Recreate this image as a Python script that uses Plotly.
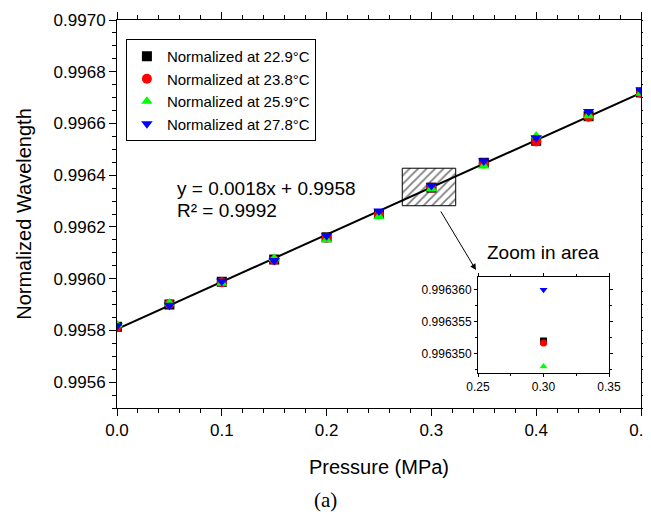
import numpy as np
import plotly.graph_objects as go

# ---------------- data ----------------
pressure = [0.0, 0.05, 0.10, 0.15, 0.20, 0.25, 0.30, 0.35, 0.40, 0.45, 0.50]
wl_229 = [0.995814, 0.995900, 0.995988, 0.996074, 0.996160, 0.996250, 0.996352, 0.996448, 0.996533, 0.996628, 0.996720]
wl_238 = [0.995812, 0.995902, 0.995986, 0.996072, 0.996158, 0.996248, 0.9963517, 0.996445, 0.996530, 0.996626, 0.996718]
wl_259 = [0.995822, 0.995906, 0.995982, 0.996078, 0.996150, 0.996240, 0.996348, 0.996436, 0.996552, 0.996630, 0.996717]
wl_278 = [0.995818, 0.995897, 0.995990, 0.996070, 0.996166, 0.996262, 0.996360, 0.996455, 0.996545, 0.996646, 0.996729]

series_names = ["Normalized at 22.9°C", "Normalized at 23.8°C",
                "Normalized at 25.9°C", "Normalized at 27.8°C"]
series_values = [wl_229, wl_238, wl_259, wl_278]
series_colors = ["#000000", "#FF0000", "#00FF00", "#0000FF"]
series_symbols = ["square", "circle", "triangle-up", "triangle-down"]

eq_text = "y = 0.0018x + 0.9958"
r2_text = "R² = 0.9992"

# zoom region (in data units)
zoom_x = [0.2722, 0.3232]
zoom_y = [0.996282, 0.996427]

x_ticks_main = [0.0, 0.1, 0.2, 0.3, 0.4, 0.5]
y_ticks_main = [0.9956, 0.9958, 0.9960, 0.9962, 0.9964, 0.9966, 0.9968, 0.9970]
x_ticks_inset = [0.25, 0.30, 0.35]
y_ticks_inset = [0.996350, 0.996355, 0.996360]

FONT = "Liberation Sans, Arial, sans-serif"

fig = go.Figure()

# hatched zoom rectangle
fig.add_trace(go.Scatter(
    x=[zoom_x[0], zoom_x[1], zoom_x[1], zoom_x[0], zoom_x[0]],
    y=[zoom_y[0], zoom_y[0], zoom_y[1], zoom_y[1], zoom_y[0]],
    mode="lines", fill="toself",
    fillpattern=dict(shape="/", fgcolor="black", bgcolor="white", size=6, solidity=0.3),
    line=dict(color="black", width=1), showlegend=False, hoverinfo="skip",
    xaxis="x", yaxis="y"))

# linear fit line
all_x = np.array(pressure * 4)
all_y = np.concatenate([np.array(v) for v in series_values])
slope, intercept = np.polyfit(all_x, all_y, 1)
fit_x = np.array([min(pressure), max(pressure)])
fig.add_trace(go.Scatter(x=fit_x, y=slope * fit_x + intercept, mode="lines",
                         line=dict(color="black", width=2), showlegend=False,
                         hoverinfo="skip", xaxis="x", yaxis="y"))

for name, vals, col, sym in zip(series_names, series_values, series_colors, series_symbols):
    fig.add_trace(go.Scatter(x=pressure, y=vals, mode="markers", name=name,
                             marker=dict(symbol=sym, color=col, size=10, line=dict(width=0)),
                             xaxis="x", yaxis="y"))

for name, vals, col, sym in zip(series_names, series_values, series_colors, series_symbols):
    fig.add_trace(go.Scatter(x=pressure, y=vals, mode="markers", name=name,
                             marker=dict(symbol=sym, color=col, size=7, line=dict(width=0)),
                             showlegend=False, xaxis="x2", yaxis="y2"))

axis_common = dict(showline=True, linecolor="black", linewidth=1, mirror="ticks",
                   ticks="outside", tickcolor="black", showgrid=False, zeroline=False,
                   automargin=False)

# the page body adds an 8px offset, so margins are reduced by 8px on left/top
fig.update_layout(
    width=643, height=516,
    margin=dict(l=109, r=10, t=12, b=116),
    paper_bgcolor="white", plot_bgcolor="white",
    font=dict(family=FONT, color="black", size=17),
    xaxis=dict(range=[0, 0.5], tickvals=x_ticks_main, tickformat=".1f", ticklen=7,
               ticklabeloverflow="allow",
               minor=dict(dtick=0.02, ticklen=4, tickcolor="black", ticks="outside"),
               title=dict(text="Pressure (MPa)", font=dict(size=20), standoff=20),
               tickfont=dict(size=17), **axis_common),
    yaxis=dict(range=[0.9955, 0.9970], tickvals=y_ticks_main, tickformat=".4f", ticklen=7,
               minor=dict(dtick=0.00005, tick0=0.9955, ticklen=4, tickcolor="black", ticks="outside"),
               title=dict(text="Normalized Wavelength", font=dict(size=20), standoff=16),
               tickfont=dict(size=17), **axis_common),
    xaxis2=dict(domain=[0.689, 0.939], anchor="y2", range=[0.25, 0.35],
                tickvals=x_ticks_inset, tickformat=".2f", ticklen=3,
                minor=dict(dtick=0.025, ticklen=2, tickcolor="black", ticks="outside"),
                tickfont=dict(size=12), **axis_common),
    yaxis2=dict(domain=[0.0902, 0.3376], anchor="x2", range=[0.996347, 0.996362],
                tickvals=y_ticks_inset, tickformat=".6f", ticklen=3,
                minor=dict(dtick=0.0000025, tick0=0.99635, ticklen=2, tickcolor="black", ticks="outside"),
                tickfont=dict(size=12), **axis_common),
    legend=dict(x=0.017, y=0.951, xanchor="left", yanchor="top",
                bordercolor="black", borderwidth=1, bgcolor="white",
                font=dict(size=15), tracegroupgap=0, itemwidth=30),
    showlegend=True,
)

fig.add_annotation(x=0.1107, y=0.566, xref="paper", yref="paper", text=eq_text,
                   showarrow=False, xanchor="left", yanchor="middle", font=dict(size=19))
fig.add_annotation(x=0.1107, y=0.5085, xref="paper", yref="paper", text=r2_text,
                   showarrow=False, xanchor="left", yanchor="middle", font=dict(size=19))
fig.add_annotation(x=0.813, y=0.3995, xref="paper", yref="paper", text="Zoom in area",
                   showarrow=False, xanchor="center", yanchor="middle", font=dict(size=19))
fig.add_annotation(x=0.685, y=0.3557, xref="paper", yref="paper", text="",
                   showarrow=True, ax=-36, ay=-60, arrowhead=2, arrowsize=1.2,
                   arrowwidth=1, arrowcolor="black")
fig.add_annotation(x=0.397, y=-0.237, xref="paper", yref="paper", text="(a)",
                   showarrow=False, xanchor="center", yanchor="middle",
                   font=dict(size=21, family="Liberation Serif, Times New Roman, serif"))

fig.write_html("out.html")
